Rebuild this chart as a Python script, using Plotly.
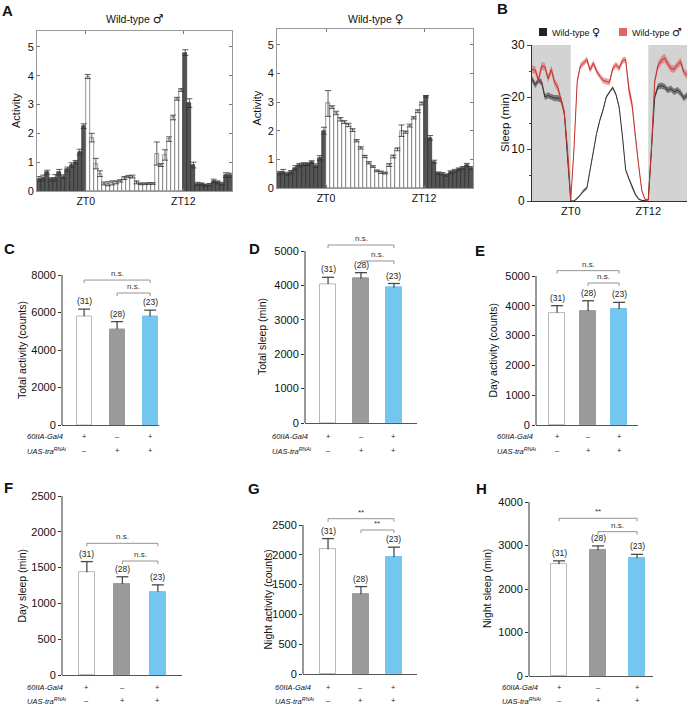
import plotly.graph_objects as go

W, H = 688, 707
FONT = 'Liberation Sans, Arial, sans-serif'
SYM = '<span style="font-family:DejaVu Sans;font-size:{}px">{}</span>'

# ---- A: mean activity per 30-min bin, ZT-6 .. ZT18
BIN_ZT = [i * 0.5 - 5.75 for i in range(48)]
MALE_ACT = [0.42, 0.45, 0.65, 0.40, 0.45, 0.65, 0.50, 0.75, 0.90, 1.00, 1.35, 2.25,
            3.97, 1.85, 0.95, 0.60, 0.26, 0.25, 0.28, 0.30, 0.35, 0.45, 0.50, 0.50,
            0.30, 0.25, 0.25, 0.26, 0.26, 1.30, 0.90, 1.25, 1.80, 2.55, 3.20, 3.50,
            4.80, 3.05, 0.90, 0.25, 0.24, 0.20, 0.22, 0.35, 0.30, 0.25, 0.55, 0.55]
MALE_ACT_ERR = [0.08, 0.10, 0.07, 0.06, 0.12, 0.10, 0.06, 0.08, 0.08, 0.06, 0.10, 0.08,
                0.07, 0.15, 0.18, 0.10, 0.05, 0.07, 0.07, 0.05, 0.04, 0.05, 0.04, 0.05,
                0.05, 0.03, 0.03, 0.03, 0.03, 0.40, 0.05, 0.18, 0.08, 0.08, 0.05, 0.05,
                0.10, 0.15, 0.10, 0.05, 0.04, 0.04, 0.04, 0.06, 0.05, 0.05, 0.08, 0.07]
FEMALE_ACT = [0.52, 0.57, 0.50, 0.55, 0.70, 0.80, 0.83, 0.83, 0.90, 0.78, 1.05, 2.00,
              2.95, 2.82, 2.62, 2.40, 2.30, 2.20, 2.02, 1.65, 1.40, 1.10, 0.88, 0.75,
              0.60, 0.55, 0.52, 0.80, 1.10, 1.35, 2.00, 1.95, 2.18, 2.45, 2.68, 2.95,
              3.20, 1.75, 0.92, 0.52, 0.50, 0.45, 0.55, 0.60, 0.65, 0.70, 0.80, 0.70]
FEMALE_ACT_ERR = [0.06, 0.08, 0.05, 0.06, 0.08, 0.06, 0.05, 0.05, 0.05, 0.06, 0.08, 0.12,
                  0.45, 0.05, 0.06, 0.06, 0.05, 0.06, 0.05, 0.04, 0.04, 0.04, 0.04, 0.03,
                  0.03, 0.04, 0.03, 0.05, 0.05, 0.05, 0.20, 0.04, 0.05, 0.04, 0.05, 0.05,
                  0.03, 0.08, 0.05, 0.04, 0.04, 0.04, 0.05, 0.05, 0.05, 0.05, 0.06, 0.05]

# ---- B: sleep per 30 min, ZT-6 .. ZT18
SLEEP_ZT = [i * 0.5 - 6 for i in range(49)]
NIGHTS = [(-6, 0), (12, 18)]
FEMALE_SLEEP = [23.5, 22.3, 23.2, 22.8, 20.0, 20.3, 20.0, 19.8, 19.8, 19.5, 17.0, 8.0, 0.0,
                0.0, 0.5, 1.2, 2.0, 2.5, 6.0, 9.5, 13.0, 15.5, 17.5, 20.0, 21.0,
                21.8, 20.5, 18.0, 12.5, 6.0, 4.3, 2.6, 1.3, 0.4, 0.1, 0.1, 0.2,
                10.0, 20.0, 22.0, 22.2, 22.0, 21.3, 21.6, 21.0, 21.3, 20.8, 19.8, 20.3]
FEMALE_SEM = [0.6, 0.6, 0.5, 0.6, 0.6, 0.6, 0.6, 0.6, 0.6, 0.6, 0.6, 0.4, 0.1,
              0.1, 0.2, 0.2, 0.3, 0.3, 0.3, 0.3, 0.3, 0.3, 0.3, 0.3, 0.3,
              0.3, 0.3, 0.3, 0.3, 0.3, 0.3, 0.3, 0.3, 0.2, 0.1, 0.1, 0.1,
              0.4, 0.6, 0.6, 0.6, 0.6, 0.6, 0.6, 0.6, 0.6, 0.6, 0.6, 0.6]
MALE_SLEEP = [25.3, 25.2, 23.2, 26.0, 25.8, 23.5, 25.3, 22.8, 21.8, 19.6, 17.0, 10.0, 0.3,
              10.0, 23.0, 26.0, 26.5, 27.2, 25.2, 26.5, 25.0, 24.0, 23.2, 23.0, 22.8,
              25.5, 26.2, 25.5, 27.0, 27.2, 21.5, 18.5, 12.0, 7.0, 2.0, 0.3, 0.2,
              10.0, 23.0, 26.0, 27.0, 27.5, 26.5, 25.5, 25.3, 26.2, 26.8, 24.8, 24.2]
MALE_SEM = [0.8, 0.7, 0.7, 0.8, 0.7, 0.7, 0.8, 0.7, 0.8, 0.8, 0.7, 0.5, 0.2,
            0.5, 0.6, 0.6, 0.6, 0.6, 0.6, 0.6, 0.6, 0.5, 0.6, 0.6, 0.6,
            0.6, 0.6, 0.6, 0.6, 0.6, 1.2, 1.0, 0.7, 0.5, 0.3, 0.2, 0.2,
            0.6, 0.7, 0.8, 0.8, 0.8, 0.8, 0.7, 0.7, 0.7, 0.8, 0.7, 0.7]

# ---- C-H: genotype comparisons
GENOTYPE_X = [0, 1, 2]
N_FLIES = ['(31)', '(28)', '(23)']
GAL4_ROW = ['+', '–', '+']
UAS_ROW = ['–', '+', '+']
BAR_FILL = ['white', '#9a9a9a', '#72c6ef']
BAR_EDGE = ['#b8b8b8', '#9a9a9a', '#72c6ef']

TOTAL_ACTIVITY = [5800, 5100, 5790]
TOTAL_ACTIVITY_ERR = [380, 410, 340]
TOTAL_SLEEP = [4040, 4195, 3930]
TOTAL_SLEEP_ERR = [195, 175, 125]
DAY_ACTIVITY = [3770, 3825, 3890]
DAY_ACTIVITY_ERR = [235, 345, 225]
DAY_SLEEP = [1434, 1267, 1164]
DAY_SLEEP_ERR = [150, 105, 95]
NIGHT_ACTIVITY = [2092, 1337, 1958]
NIGHT_ACTIVITY_ERR = [180, 130, 170]
NIGHT_SLEEP = [2567, 2890, 2706]
NIGHT_SLEEP_ERR = [80, 100, 90]

SIG_C = [(0, 2, 'n.s.', 7730), (1, 2, 'n.s.', 7040)]
SIG_D = [(0, 2, 'n.s.', 5174), (1, 2, 'n.s.', 4710)]
SIG_E = [(0, 2, 'n.s.', 5180), (1, 2, 'n.s.', 4765)]
SIG_F = [(0, 2, 'n.s.', 1839), (1, 2, 'n.s.', 1592)]
SIG_G = [(0, 2, '**', 2606), (1, 2, '**', 2416)]
SIG_H = [(0, 2, '**', 3625), (1, 2, 'n.s.', 3318)]


# page pixel -> paper fraction
def px(x):
    return x / W


def py(y):
    return 1 - y / H


def xd(l, r):
    return [px(l), px(r)]


def yd(t, b):
    return [py(b), py(t)]


fig = go.Figure()
layout = {}
annotations = []
shapes = []


def ann(text, x, y, size=11, **kw):
    d = dict(text=text, x=px(x), y=py(y), xref='paper', yref='paper', showarrow=False,
             xanchor='center', yanchor='middle',
             font=dict(size=size, color='#111', family=FONT))
    d.update(kw)
    annotations.append(d)


# panel A
def activity_panel(n, vals, errs, title, l, r, t, b):
    s = str(n) if n > 1 else ''
    dark = [zt < 0 or zt > 12 for zt in BIN_ZT]
    fig.add_trace(go.Bar(
        x=BIN_ZT, y=vals, width=0.5,
        marker=dict(color=['#555555' if d else 'white' for d in dark],
                    line=dict(color=['#222222' if d else '#555555' for d in dark], width=0.6)),
        error_y=dict(type='data', array=errs, color='#333333', thickness=0.8, width=3),
        xaxis='x' + s, yaxis='y' + s, showlegend=False))
    layout['xaxis' + s] = dict(domain=xd(l, r), range=[-6, 18], anchor='y' + s,
                               tickvals=[0, 12], ticktext=['ZT0', 'ZT12'], ticks='inside',
                               ticklen=3, tickcolor='#777', showline=True, linecolor='#999',
                               mirror='ticks', showgrid=False, zeroline=False,
                               tickfont=dict(size=10.5), automargin=False)
    layout['yaxis' + s] = dict(domain=yd(t, b), range=[0, 5.55], anchor='x' + s,
                               tickvals=[0, 1, 2, 3, 4, 5], ticks='inside', ticklen=3,
                               tickcolor='#777', showline=True, linecolor='#999',
                               mirror='ticks', showgrid=False, zeroline=False,
                               tickfont=dict(size=11), automargin=False)
    ann(title, (l + r) / 2, 19, 10.5)
    ann('Activity', l - 21, (t + b) / 2, 11, textangle=-90)


activity_panel(1, MALE_ACT, MALE_ACT_ERR, 'Wild-type ' + SYM.format(12, '♂'), 37, 232, 31, 191)
activity_panel(2, FEMALE_ACT, FEMALE_ACT_ERR, 'Wild-type ' + SYM.format(12, '♀'), 277, 473, 29, 188)
ann('<b>A</b>', 7, 10, 15)

# panel B
for x0, x1 in NIGHTS:
    shapes.append(dict(type='rect', xref='x3', yref='y3', x0=x0, x1=x1, y0=0, y1=30,
                       fillcolor='#d3d3d3', line=dict(width=0), layer='below'))

for mean, sem, band, line in [(FEMALE_SLEEP, FEMALE_SEM, 'rgba(50,50,50,0.55)', '#333333'),
                              (MALE_SLEEP, MALE_SEM, 'rgba(225,80,80,0.55)', '#c3302a')]:
    upper = [m + e for m, e in zip(mean, sem)]
    lower = [m - e for m, e in zip(mean, sem)]
    fig.add_trace(go.Scatter(x=SLEEP_ZT + SLEEP_ZT[::-1], y=upper + lower[::-1], fill='toself',
                             fillcolor=band, line=dict(width=0), mode='lines',
                             xaxis='x3', yaxis='y3', showlegend=False, hoverinfo='skip'))
    fig.add_trace(go.Scatter(x=SLEEP_ZT, y=mean, mode='lines', line=dict(color=line, width=1),
                             xaxis='x3', yaxis='y3', showlegend=False))

layout['xaxis3'] = dict(domain=xd(532, 687), range=[-6, 18], anchor='y3', tickvals=[0, 12],
                        ticktext=['ZT0', 'ZT12'], ticks='', showline=True, linecolor='#333',
                        showgrid=False, zeroline=False, tickfont=dict(size=11), automargin=False)
layout['yaxis3'] = dict(domain=yd(45, 201), range=[0, 30], anchor='x3', tickvals=[0, 10, 20, 30],
                        ticks='outside', ticklen=4, showline=True, linecolor='#333',
                        showgrid=False, zeroline=False, tickfont=dict(size=12), automargin=False,
                        minor=dict(tickvals=[5, 15, 25], ticks='outside', ticklen=2.5))
ann('<b>B</b>', 502, 9, 15)
ann('Sleep (min)', 505, 123, 11.5, textangle=-90)
shapes.append(dict(type='rect', xref='paper', yref='paper', x0=px(539), x1=px(547),
                   y0=py(36), y1=py(28), fillcolor='#222', line=dict(width=0)))
shapes.append(dict(type='rect', xref='paper', yref='paper', x0=px(619), x1=px(627),
                   y0=py(36), y1=py(28), fillcolor='#e06666', line=dict(width=0)))
ann('Wild-type ' + SYM.format(11, '♀'), 550, 32, 9, xanchor='left')
ann('Wild-type ' + SYM.format(11, '♂'), 630, 32, 9, xanchor='left')

# panels C-H
PANELS = [
    dict(letter='C', n=4, y=TOTAL_ACTIVITY, err=TOTAL_ACTIVITY_ERR, sig=SIG_C,
         title='Total activity (counts)', l=62, r=159, b=425, top=275, ymax=8000, dtick=2000,
         ext=8400, xr=[-0.67, 2.27], bw=0.45, lx=9, ly=248, tx=22, rows=(436, 450), lab=25),
    dict(letter='D', n=5, y=TOTAL_SLEEP, err=TOTAL_SLEEP_ERR, sig=SIG_D,
         title='Total sleep (min)', l=305, r=417, b=423, top=251, ymax=5000, dtick=1000,
         ext=5600, xr=[-0.70, 2.70], bw=0.48, lx=254, ly=248, tx=262, rows=(436, 450), lab=270),
    dict(letter='E', n=6, y=DAY_ACTIVITY, err=DAY_ACTIVITY_ERR, sig=SIG_E,
         title='Day activity (counts)', l=536, r=638, b=425, top=276, ymax=5000, dtick=1000,
         ext=5600, xr=[-0.68, 2.61], bw=0.50, lx=480, ly=250, tx=492, rows=(436, 450), lab=495),
    dict(letter='F', n=7, y=DAY_SLEEP, err=DAY_SLEEP_ERR, sig=SIG_F,
         title='Day sleep (min)', l=62, r=182, b=675, top=496, ymax=2500, dtick=500,
         ext=2750, xr=[-0.70, 2.68], bw=0.45, lx=8, ly=487, tx=21, rows=(687, 700), lab=25),
    dict(letter='G', n=8, y=NIGHT_ACTIVITY, err=NIGHT_ACTIVITY_ERR, sig=SIG_G,
         title='Night activity (counts)', l=303, r=417, b=674, top=525, ymax=2500, dtick=500,
         ext=2800, xr=[-0.76, 2.70], bw=0.48, lx=254, ly=488, tx=267, rows=(687, 700), lab=273),
    dict(letter='H', n=9, y=NIGHT_SLEEP, err=NIGHT_SLEEP_ERR, sig=SIG_H,
         title='Night sleep (min)', l=529, r=653, b=676, top=502, ymax=4000, dtick=1000,
         ext=4300, xr=[-0.77, 2.41], bw=0.41, lx=481, ly=488, tx=487, rows=(687, 700), lab=500),
]

for p in PANELS:
    s = str(p['n'])
    xa, ya = 'x' + s, 'y' + s
    ppu_y = (p['b'] - p['top']) / p['ymax']
    ppu_x = (p['r'] - p['l']) / (p['xr'][1] - p['xr'][0])
    top_px = p['b'] - p['ext'] * ppu_y

    fig.add_trace(go.Bar(x=GENOTYPE_X, y=p['y'], width=p['bw'],
                         marker=dict(color=BAR_FILL, line=dict(color=BAR_EDGE, width=1)),
                         xaxis=xa, yaxis=ya, showlegend=False))
    # one-sided whiskers
    cap = 6 / ppu_x
    wx, wy = [], []
    for x, m, e in zip(GENOTYPE_X, p['y'], p['err']):
        wx += [x, x, None, x - cap, x + cap, None]
        wy += [m, m + e, None, m + e, m + e, None]
    fig.add_trace(go.Scatter(x=wx, y=wy, mode='lines', line=dict(color='#4a4a4a', width=1.3),
                             xaxis=xa, yaxis=ya, showlegend=False, hoverinfo='skip'))

    layout['xaxis' + s] = dict(domain=xd(p['l'], p['r']), range=p['xr'], anchor=ya,
                               showticklabels=False, ticks='', showline=True, linecolor='#555',
                               showgrid=False, zeroline=False, automargin=False)
    layout['yaxis' + s] = dict(domain=yd(top_px, p['b']), range=[0, p['ext']], anchor=xa,
                               tickvals=list(range(0, p['ymax'] + 1, p['dtick'])),
                               ticks='outside', ticklen=3, tickcolor='#333', showline=False,
                               showgrid=False, zeroline=False, automargin=False,
                               tickfont=dict(size=11, color='#111'))
    shapes.append(dict(type='line', xref=xa + ' domain', yref=ya, x0=0, x1=0, y0=0, y1=p['ymax'],
                       line=dict(color='#333', width=1)))

    # sample sizes
    for x, m, e, n in zip(GENOTYPE_X, p['y'], p['err'], N_FLIES):
        annotations.append(dict(text=n, x=x, y=m + e, xref=xa, yref=ya, yanchor='bottom',
                                yshift=1, showarrow=False, font=dict(size=8.5, color='#222', family=FONT)))
    # significance brackets
    tick = 3 / ppu_y
    for a, b, txt, lev in p['sig']:
        shapes.append(dict(type='path', xref=xa, yref=ya,
                           path=f'M {a},{lev - tick} L {a},{lev} L {b},{lev} L {b},{lev - tick}',
                           line=dict(color='#888', width=0.9)))
        annotations.append(dict(text=txt, x=(a + b) / 2, y=lev, xref=xa, yref=ya, yanchor='bottom',
                                showarrow=False, font=dict(size=8, color='#333', family=FONT)))

    # genotype rows
    for x, g, u in zip(GENOTYPE_X, GAL4_ROW, UAS_ROW):
        annotations.append(dict(text=g, x=x, y=py(p['rows'][0]), xref=xa, yref='paper',
                                yanchor='middle', showarrow=False,
                                font=dict(size=7.5, color='#222', family=FONT)))
        annotations.append(dict(text=u, x=x, y=py(p['rows'][1]), xref=xa, yref='paper',
                                yanchor='middle', showarrow=False,
                                font=dict(size=7.5, color='#222', family=FONT)))
    ann('<i>60IIA-Gal4</i>', p['lab'], p['rows'][0], 7.5, xanchor='left')
    ann('<i>UAS-tra<sup>RNAi</sup></i>', p['lab'], p['rows'][1] + 1, 7.5, xanchor='left')

    ann('<b>' + p['letter'] + '</b>', p['lx'], p['ly'], 15)
    ann(p['title'], p['tx'], (p['top'] + p['b']) / 2, 10.5, textangle=-90)

fig.update_layout(template='none', width=W, height=H, margin=dict(l=0, r=0, t=0, b=0, pad=0),
                  paper_bgcolor='white', plot_bgcolor='rgba(0,0,0,0)',
                  font=dict(family=FONT, size=11, color='#111'),
                  showlegend=False, bargap=0, annotations=annotations, shapes=shapes, **layout)

# drop the default 8px page margin so the figure sits at the window's corner
fig.write_html("out.html", config={'displayModeBar': False},
               post_script="document.body.style.margin='0';")
